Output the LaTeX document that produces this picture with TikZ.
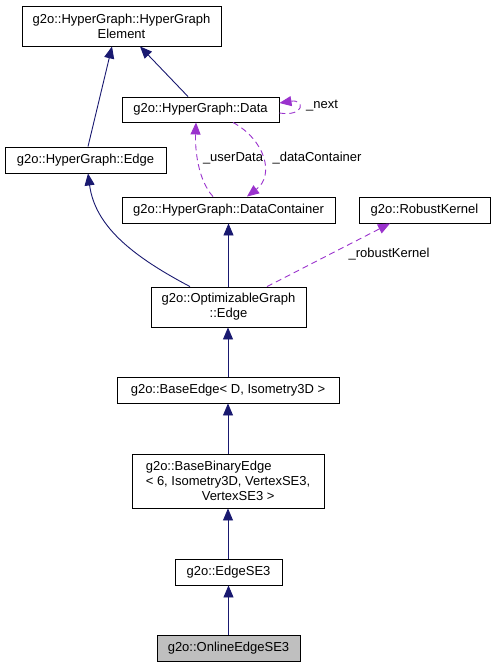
\documentclass[tikz,border=0pt]{standalone}
\usepackage{fontspec}
\setmainfont{Liberation Sans}
\usetikzlibrary{calc}
\usetikzlibrary{arrows.meta}

\definecolor{edgeblue}{HTML}{191970}
\definecolor{edgepurple}{HTML}{9A32CD}
\definecolor{nodegray}{HTML}{BFBFBF}

\begin{document}
\begin{tikzpicture}[x=1pt, y=-1pt,
    cls/.style={draw=black, line width=0.9pt, inner sep=0pt, align=center, font=\fontsize{13}{15}\selectfont},
    lbl/.style={inner sep=0pt, font=\fontsize{13}{15}\selectfont},
    inh/.style={draw=edgeblue, line width=0.9pt, -{Triangle[length=12pt,width=10pt]}},
    usg/.style={draw=edgepurple, line width=0.9pt, dash pattern=on 6pt off 4pt, -{Triangle[length=12pt,width=10pt]}}]
    \useasboundingbox (0,0) rectangle (495,667);

    % Draw the class boxes
    \node[cls, minimum width=199, minimum height=40] (elem) at (121.5,26) {g2o::HyperGraph::HyperGraph\\Element};
    \node[cls, minimum width=157, minimum height=25] (data) at (200.5,109.5) {g2o::HyperGraph::Data};
    \node[cls, minimum width=161, minimum height=26] (hgedge) at (85.5,160) {g2o::HyperGraph::Edge};
    \node[cls, minimum width=213, minimum height=26] (dcont) at (228.5,210) {g2o::HyperGraph::DataContainer};
    \node[cls, minimum width=131, minimum height=26] (robust) at (424.5,210) {g2o::RobustKernel};
    \node[cls, minimum width=155, minimum height=40] (optedge) at (228.5,307) {g2o::OptimizableGraph\\::Edge};
    \node[cls, minimum width=222, minimum height=26] (baseedge) at (228,390) {g2o::BaseEdge< D, Isometry3D >};
    \node[cls, align=left, minimum width=192, minimum height=54] (binedge) at (228,481)
        {g2o::BaseBinaryEdge\\< 6, Isometry3D, VertexSE3,\\\hspace*{56pt}VertexSE3 >};
    \node[cls, minimum width=107, minimum height=26] (edgese3) at (228.5,572) {g2o::EdgeSE3};
    \node[cls, fill=nodegray, minimum width=143, minimum height=26] (online) at (228.5,648) {g2o::OnlineEdgeSE3};

    % Draw inheritance arrows
    \draw[inh] ([xshift=2.5]hgedge.north) -- ([xshift=-9.5]elem.south);
    \draw[inh] ([xshift=-12.5]data.north) -- ([xshift=18.5]elem.south);
    \draw[inh] ([xshift=-38.5]optedge.north) .. controls (130,255) and (95,225) .. ([xshift=2.5]hgedge.south);
    \draw[inh] (optedge.north) -- (dcont.south);
    \draw[inh] (baseedge.north) -- ([xshift=-0.5]optedge.south);
    \draw[inh] (binedge.north) -- (baseedge.south);
    \draw[inh] ([xshift=-0.5]edgese3.north) -- (binedge.south);
    \draw[inh] (online.north) -- (edgese3.south);

    % Draw usage arrows
    \draw[usg] ([yshift=-3.5]data.east) .. controls (305,117) and (305,99) .. ([yshift=6.5]data.east);
    \draw[usg] ([xshift=-15.5]dcont.north) .. controls (198,180) and (195,150) .. ([xshift=-4.5]data.south);
    \draw[usg] ([xshift=32.5]data.south) .. controls (265,140) and (275,175) .. ([xshift=18.5]dcont.north);
    \draw[usg] ([xshift=38.5]optedge.north) -- ([xshift=-34.5]robust.south);

    % Draw edge labels
    \node[lbl] (lnext) at (322,106) {\_next};
    \node[lbl] (luser) at (233,158) {\_userData};
    \node[lbl] (ldcont) at (317,158) {\_dataContainer};
    \node[lbl] (lrob) at (389,254) {\_robustKernel};
\end{tikzpicture}
\end{document}
